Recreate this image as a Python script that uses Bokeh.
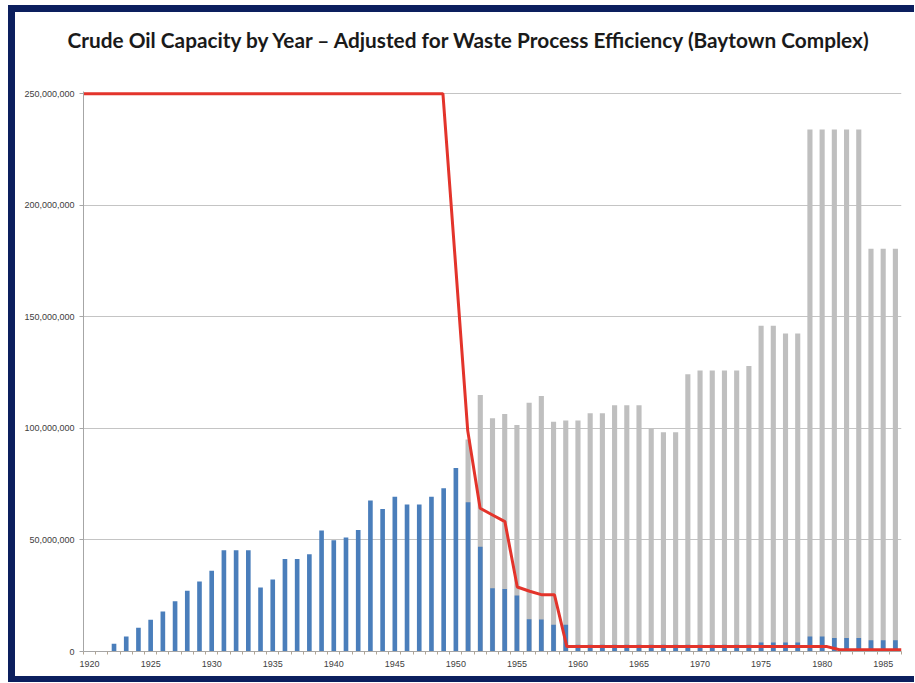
from bokeh.plotting import figure
from bokeh.models import Range1d, FixedTicker, NumeralTickFormatter, Spacer, Title
from bokeh.layouts import column, row
from bokeh.embed import file_html
from bokeh.resources import INLINE

# ---- data (values in millions of barrels/year) ----
years = list(range(1920, 1987))

adjusted_m = [
    0, 0, 3.5, 6.7, 10.6, 14.2, 17.9, 22.5, 27.2, 31.4,          # 1920-1929
    36.2, 45.4, 45.4, 45.4, 28.7, 32.3, 41.5, 41.5, 43.6, 54.2,   # 1930-1939
    49.9, 51.1, 54.5, 67.7, 63.9, 69.4, 65.9, 65.9, 69.4, 73.2,   # 1940-1949
    82.2, 66.9, 47.0, 28.4, 28.0, 25.1, 14.5, 14.3, 12.0, 12.0,   # 1950-1959
    3, 3, 3, 3, 3, 3, 3, 3, 3, 3,                                 # 1960-1969
    3, 3, 3, 3, 3, 4, 4, 4, 4, 6.7,                               # 1970-1979
    6.7, 6, 6, 6, 5, 5, 5,                                        # 1980-1986
]

capacity_m = [
    0, 0, 0, 0, 0, 0, 0, 0, 0, 0,                                 # 1920-1929
    0, 0, 0, 0, 0, 0, 0, 0, 0, 0,                                 # 1930-1939
    0, 0, 0, 0, 0, 0, 0, 0, 0, 0,                                 # 1940-1949
    0, 95, 115, 104.5, 106.5, 101.5, 111.5, 114.5, 103, 103.5,    # 1950-1959
    103.5, 106.8, 106.8, 110.4, 110.4, 110.4, 99.8, 98.3, 98.3, 124.3,  # 1960-1969
    126, 126, 126, 126, 128, 146, 146, 142.5, 142.5, 234,         # 1970-1979
    234, 234, 234, 234, 180.5, 180.5, 180.5,                      # 1980-1986
]

efficiency_m = [
    250, 250, 250, 250, 250, 250, 250, 250, 250, 250,             # 1920-1929
    250, 250, 250, 250, 250, 250, 250, 250, 250, 250,             # 1930-1939
    250, 250, 250, 250, 250, 250, 250, 250, 250, 250,             # 1940-1949
    175, 99, 64.2, 61.2, 58.2, 28.9, 27, 25.4, 25.4, 2.2,         # 1950-1959
    2.2, 2.2, 2.2, 2.2, 2.2, 2.2, 2.2, 2.2, 2.2, 2.2,             # 1960-1969
    2.2, 2.2, 2.2, 2.2, 2.2, 2.2, 2.2, 2.2, 2.2, 2.2,             # 1970-1979
    2.2, 0.8, 0.8, 0.8, 0.8, 0.8, 0.8,                            # 1980-1986
]

x_label_years = [1920, 1925, 1930, 1935, 1940, 1945, 1950, 1955, 1960, 1965, 1970, 1975, 1980, 1985]
y_ticks = [0, 50000000, 100000000, 150000000, 200000000, 250000000]

title_text = "Crude Oil Capacity by Year \u2013 Adjusted for Waste Process Efficiency (Baytown Complex)"

NAVY = "#0c1f5e"
BLUE = "#4a7ebb"
GRAY = "#bfbfbf"
RED = "#e3342b"
AXIS = "#a6a6a6"

adjusted = [v * 1e6 for v in adjusted_m]
capacity = [v * 1e6 for v in capacity_m]
efficiency = [v * 1e6 for v in efficiency_m]

p = figure(
    width=899, height=664,
    x_range=Range1d(1919.5, 1986.5),
    y_range=Range1d(0, 251e6),
    output_backend="svg", toolbar_location=None,
    min_border_left=68, min_border_right=13,
    min_border_top=79, min_border_bottom=25,
    title=title_text,
)
p.extra_x_ranges = {"eff": Range1d(1920, 1986)}

p.title.text_font = "Lato"
p.title.text_font_style = "bold"
p.title.text_font_size = "20.8px"
p.title.text_color = "#1a1a1a"
p.title.align = "left"
p.title.offset = -16
p.title.standoff = 22

# invisible spacer between title and plot frame (pushes the title upward)
gap = Title(text=" ", text_font_size="10px", standoff=16, text_color="white")
p.add_layout(gap, "above")

p.outline_line_color = None
p.background_fill_color = "white"
p.border_fill_color = "white"

p.vbar(x=years, top=capacity, width=0.42, fill_color=GRAY, line_color=None)
p.vbar(x=years, top=adjusted, width=0.38, fill_color=BLUE, line_color=None)
p.line(x=years, y=efficiency, x_range_name="eff", line_color=RED, line_width=3)

# grid
p.xgrid.visible = False
p.ygrid.ticker = FixedTicker(ticks=y_ticks)
p.ygrid.grid_line_color = "#c4c4c4"
p.ygrid.grid_line_width = 1

# y axis
p.yaxis.ticker = FixedTicker(ticks=y_ticks, minor_ticks=[])
p.yaxis.formatter = NumeralTickFormatter(format="0,0")
p.yaxis.axis_line_color = AXIS
p.yaxis.major_tick_line_color = AXIS
p.yaxis.major_tick_out = 4
p.yaxis.major_tick_in = 0
p.yaxis.major_label_standoff = 5
p.yaxis.major_label_text_font = "Liberation Sans"
p.yaxis.major_label_text_font_size = "9px"
p.yaxis.major_label_text_color = "#404040"

# x axis
boundaries = [y - 0.5 for y in years] + [years[-1] + 0.5]
p.xaxis.ticker = FixedTicker(ticks=x_label_years, minor_ticks=boundaries)
p.xaxis.axis_line_color = AXIS
p.xaxis.major_tick_out = 0
p.xaxis.major_tick_in = 0
p.xaxis.minor_tick_out = 3
p.xaxis.minor_tick_in = 0
p.xaxis.minor_tick_line_color = "#b0a493"
p.xaxis.major_label_standoff = 6
p.xaxis.major_label_text_font = "Liberation Sans"
p.xaxis.major_label_text_font_size = "9px"
p.xaxis.major_label_text_color = "#404040"

top_strip = Spacer(width=906, height=7, styles={"background-color": NAVY})
left_strip = Spacer(width=7, height=664, styles={"background-color": NAVY})
bottom_strip = Spacer(width=906, height=6, styles={"background-color": NAVY})
inner = column(top_strip, row(left_strip, p), bottom_strip)

layout = column(
    Spacer(width=914, height=5),
    row(Spacer(width=8, height=677), inner),
)

open("out.html", "w").write(file_html(layout, INLINE))
